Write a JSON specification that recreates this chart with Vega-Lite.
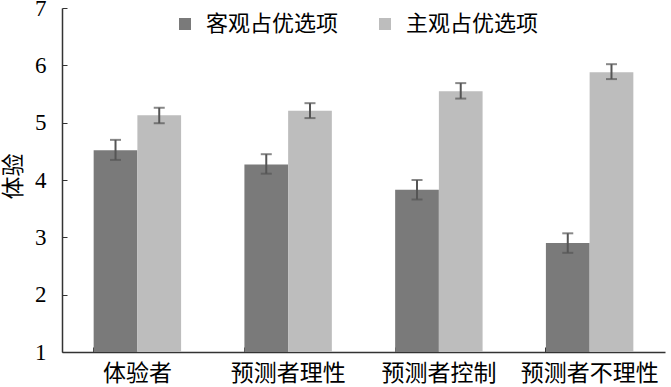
{
  "$schema": "https://vega.github.io/schema/vega-lite/v6.json",
  "width": 603,
  "height": 344,
  "autosize": "none",
  "padding": {"left": 62, "top": 8, "right": 6, "bottom": 35},
  "background": "white",
  "config": {
    "view": {"stroke": null},
    "axis": {"grid": false}
  },
  "data": {
    "values": [
      {"group": "体验者", "type": "客观占优选项", "mean": 4.52, "lo": 4.35, "hi": 4.70},
      {"group": "体验者", "type": "主观占优选项", "mean": 5.13, "lo": 4.99, "hi": 5.26},
      {"group": "预测者理性", "type": "客观占优选项", "mean": 4.27, "lo": 4.11, "hi": 4.45},
      {"group": "预测者理性", "type": "主观占优选项", "mean": 5.21, "lo": 5.08, "hi": 5.34},
      {"group": "预测者控制", "type": "客观占优选项", "mean": 3.83, "lo": 3.66, "hi": 4.00},
      {"group": "预测者控制", "type": "主观占优选项", "mean": 5.55, "lo": 5.42, "hi": 5.69},
      {"group": "预测者不理性", "type": "客观占优选项", "mean": 2.90, "lo": 2.73, "hi": 3.07},
      {"group": "预测者不理性", "type": "主观占优选项", "mean": 5.88, "lo": 5.76, "hi": 6.02}
    ]
  },
  "encoding": {
    "x": {
      "field": "group", "type": "nominal",
      "sort": ["体验者", "预测者理性", "预测者控制", "预测者不理性"],
      "scale": {"paddingInner": 0.42, "paddingOuter": 0.21},
      "axis": {
        "title": null, "labelAngle": 0, "bandPosition": 0,
        "labelFont": "Noto Sans CJK SC", "labelFontSize": 23, "labelColor": "#000",
        "labelPadding": 15, "tickSize": -5, "tickColor": "#333", "domainColor": "#333",
        "domainWidth": 1.5, "tickWidth": 1
      }
    },
    "xOffset": {"field": "type", "type": "nominal", "sort": ["客观占优选项", "主观占优选项"]}
  },
  "layer": [
    {
      "mark": {"type": "bar"},
      "encoding": {
        "y": {
          "field": "mean", "type": "quantitative",
          "scale": {"domain": [1, 7], "nice": false, "zero": false},
          "axis": {
            "title": "体验", "values": [1, 2, 3, 4, 5, 6, 7], "format": "d",
            "titleFont": "Noto Sans CJK SC", "titleFontSize": 23, "titleFontWeight": "normal",
            "titleColor": "#000", "titleX": -49, "titleY": 168,
            "titleAlign": "center", "titleBaseline": "middle", "titleAngle": -90,
            "labelFont": "Liberation Serif", "labelFontSize": 23, "labelColor": "#000",
            "labelPadding": 21, "tickSize": -5, "tickColor": "#333", "domainColor": "#333",
            "domainWidth": 1.5
          }
        },
        "y2": {"datum": 1},
        "color": {
          "field": "type", "type": "nominal",
          "sort": ["客观占优选项", "主观占优选项"],
          "scale": {"range": ["#7a7a7a", "#bdbdbd"]},
          "legend": {
            "title": null, "orient": "none", "direction": "horizontal",
            "legendX": 112, "legendY": 5, "padding": 0,
            "symbolType": "square", "symbolSize": 144, "symbolStrokeWidth": 0,
            "labelFont": "Noto Sans CJK SC", "labelFontSize": 22, "labelColor": "#000",
            "labelOffset": 10, "columnPadding": 35
          }
        }
      }
    },
    {
      "mark": {"type": "rule", "color": "#555", "strokeWidth": 2},
      "encoding": {
        "y": {"field": "lo", "type": "quantitative"},
        "y2": {"field": "hi"}
      }
    },
    {
      "mark": {"type": "tick", "color": "#555", "size": 11, "thickness": 2},
      "encoding": {"y": {"field": "hi", "type": "quantitative"}}
    },
    {
      "mark": {"type": "tick", "color": "#555", "size": 11, "thickness": 2},
      "encoding": {"y": {"field": "lo", "type": "quantitative"}}
    }
  ]
}
